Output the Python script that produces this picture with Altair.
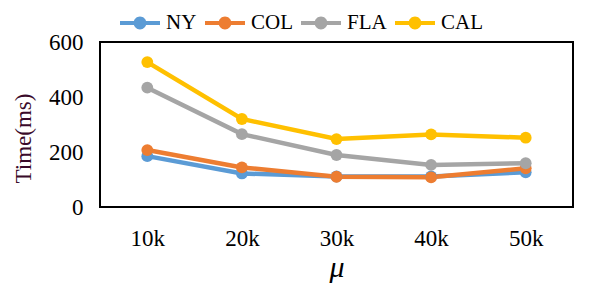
import altair as alt
import pandas as pd

categories = ["10k", "20k", "30k", "40k", "50k"]
series = ["NY", "COL", "FLA", "CAL"]
ny = [185, 122, 111, 111, 126]
col = [207, 144, 110, 108, 141]
fla = [434, 265, 189, 153, 159]
cal = [527, 320, 247, 264, 252]
colors = ["#5B9BD5", "#ED7D31", "#A5A5A5", "#FFC000"]

rows = []
for name, vals in zip(series, [ny, col, fla, cal]):
    for c, v in zip(categories, vals):
        rows.append({"mu": c, "time": v, "series": name, "line": name + " line"})
df = pd.DataFrame(rows)

font = "Liberation Serif"
x = alt.X("mu:N", sort=categories, title="μ",
          scale=alt.Scale(type="point", padding=0.5),
          axis=alt.Axis(labelAngle=0, ticks=False, domain=False, labelFontSize=23,
                        labelPadding=20, titleFontSize=30, titleFontStyle="italic",
                        titleFontWeight="normal", titlePadding=2, labelColor="black",
                        titleColor="black", labelFont=font, titleFont=font))
y = alt.Y("time:Q", title="Time(ms)",
          scale=alt.Scale(domain=[0, 600], nice=False),
          axis=alt.Axis(values=[0, 200, 400, 600], grid=False, ticks=False, domain=False,
                        labelFontSize=23, labelPadding=17, labelColor="black",
                        titleFontSize=23, titleFontWeight="normal", titleColor="#3a0a2a",
                        titleAngle=-90, titleX=-77, titleY=96, titleAlign="center",
                        titleBaseline="middle", labelFont=font, titleFont=font))

sym = ("M-1,-0.1L-0.3,-0.1L-0.3,0.1L-1,0.1Z "
       "M0.3,-0.1L1,-0.1L1,0.1L0.3,0.1Z "
       "M-0.32,0A0.32,0.32 0 1,1 0.32,0A0.32,0.32 0 1,1 -0.32,0Z")
legend = alt.Legend(orient="none", direction="horizontal",
                    legendX=20, legendY=-39, symbolType=sym,
                    symbolSize=1600, symbolStrokeWidth=0,
                    labelFontSize=21, labelFont=font,
                    labelColor="black", labelOffset=6,
                    columnPadding=8, symbolOpacity=1)

base = alt.Chart(df)
lines = base.mark_line(strokeWidth=4.5).encode(
    x=x, y=y,
    stroke=alt.Stroke("line:N", legend=None,
                      scale=alt.Scale(domain=[s + " line" for s in series], range=colors)),
    detail="series:N")
pts = base.mark_point(filled=True, size=140, opacity=1).encode(
    x=x, y=y,
    color=alt.Color("series:N", title="", legend=legend,
                    scale=alt.Scale(domain=series, range=colors)))

chart = alt.layer(lines, pts).properties(
    width=473, height=165,
    autosize=alt.AutoSizeParams(type="none"),
    padding={"left": 92, "top": 34, "right": 10, "bottom": 81},
).configure(font=font, view=alt.ViewConfig(stroke="black", strokeWidth=2))

chart.save("out.html", embed_options={"renderer": "svg", "actions": False})
